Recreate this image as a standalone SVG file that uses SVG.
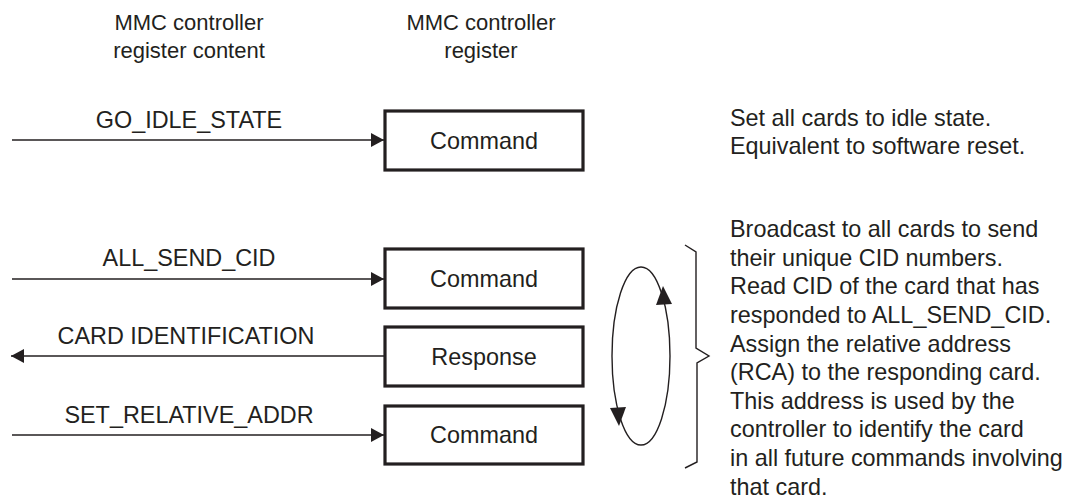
<svg xmlns="http://www.w3.org/2000/svg" width="1073" height="502" viewBox="0 0 1073 502">
<style>
text{font-family:"Liberation Sans",Arial,sans-serif;font-size:23.4px;fill:#231f20}
.c{text-anchor:middle}
.h{font-size:22px}
.box{fill:#fff;stroke:#231f20;stroke-width:3.2}
.ln{fill:none;stroke:#231f20;stroke-width:1.4}
</style>
<defs>
<marker id="ah" viewBox="0 0 13 14" refX="13" refY="7" markerWidth="13" markerHeight="14" markerUnits="userSpaceOnUse" orient="auto">
<path d="M0,0L13,7L0,14z" fill="#231f20"/>
</marker>
</defs>
<g id="headers">
<text class="c h" x="189" y="30">MMC controller</text>
<text class="c h" x="189" y="58">register content</text>
<text class="c h" x="481" y="30">MMC controller</text>
<text class="c h" x="481" y="58">register</text>
</g>
<g id="connectors">
<line class="ln" x1="12" y1="140" x2="384" y2="140" marker-end="url(#ah)"/>
<line class="ln" x1="12" y1="279" x2="384" y2="279" marker-end="url(#ah)"/>
<line class="ln" x1="385" y1="356" x2="11" y2="356" marker-end="url(#ah)"/>
<line class="ln" x1="12" y1="435" x2="384" y2="435" marker-end="url(#ah)"/>
<text class="c" x="189" y="128">GO_IDLE_STATE</text>
<text class="c" x="189" y="266">ALL_SEND_CID</text>
<text class="c" x="186" y="344">CARD IDENTIFICATION</text>
<text class="c" x="189" y="423">SET_RELATIVE_ADDR</text>
</g>
<g id="cmd1"><rect class="box" x="385" y="111" width="198" height="59"/><text class="c" x="484" y="149">Command</text></g>
<g id="cmd2"><rect class="box" x="385" y="249" width="198" height="59"/><text class="c" x="484" y="287">Command</text></g>
<g id="resp"><rect class="box" x="385" y="327" width="198" height="59"/><text class="c" x="484" y="365">Response</text></g>
<g id="cmd3"><rect class="box" x="385" y="406" width="198" height="58"/><text class="c" x="484" y="443">Command</text></g>
<g id="loop">
<ellipse class="ln" cx="641" cy="356" rx="29" ry="89"/>
<path d="M663,286 L672,304 L656,305 z" fill="#231f20"/>
<path d="M619,426 L610,408 L626,407 z" fill="#231f20"/>
</g>
<g id="brace">
<path class="ln" d="M685,245 L696,252 L696,348 L709,356 L697,363 L697,462 L685,468"/>
</g>
<g id="desc1">
<text x="730" y="126">Set all cards to idle state.</text>
<text x="730" y="154">Equivalent to software reset.</text>
</g>
<g id="desc2">
<text x="730" y="237">Broadcast to all cards to send</text>
<text x="730" y="266">their unique CID numbers.</text>
<text x="730" y="294">Read CID of the card that has</text>
<text x="730" y="323">responded to ALL_SEND_CID.</text>
<text x="730" y="352">Assign the relative address</text>
<text x="730" y="380">(RCA) to the responding card.</text>
<text x="730" y="409">This address is used by the</text>
<text x="730" y="437">controller to identify the card</text>
<text x="730" y="466">in all future commands involving</text>
<text x="730" y="495">that card.</text>
</g>
</svg>
